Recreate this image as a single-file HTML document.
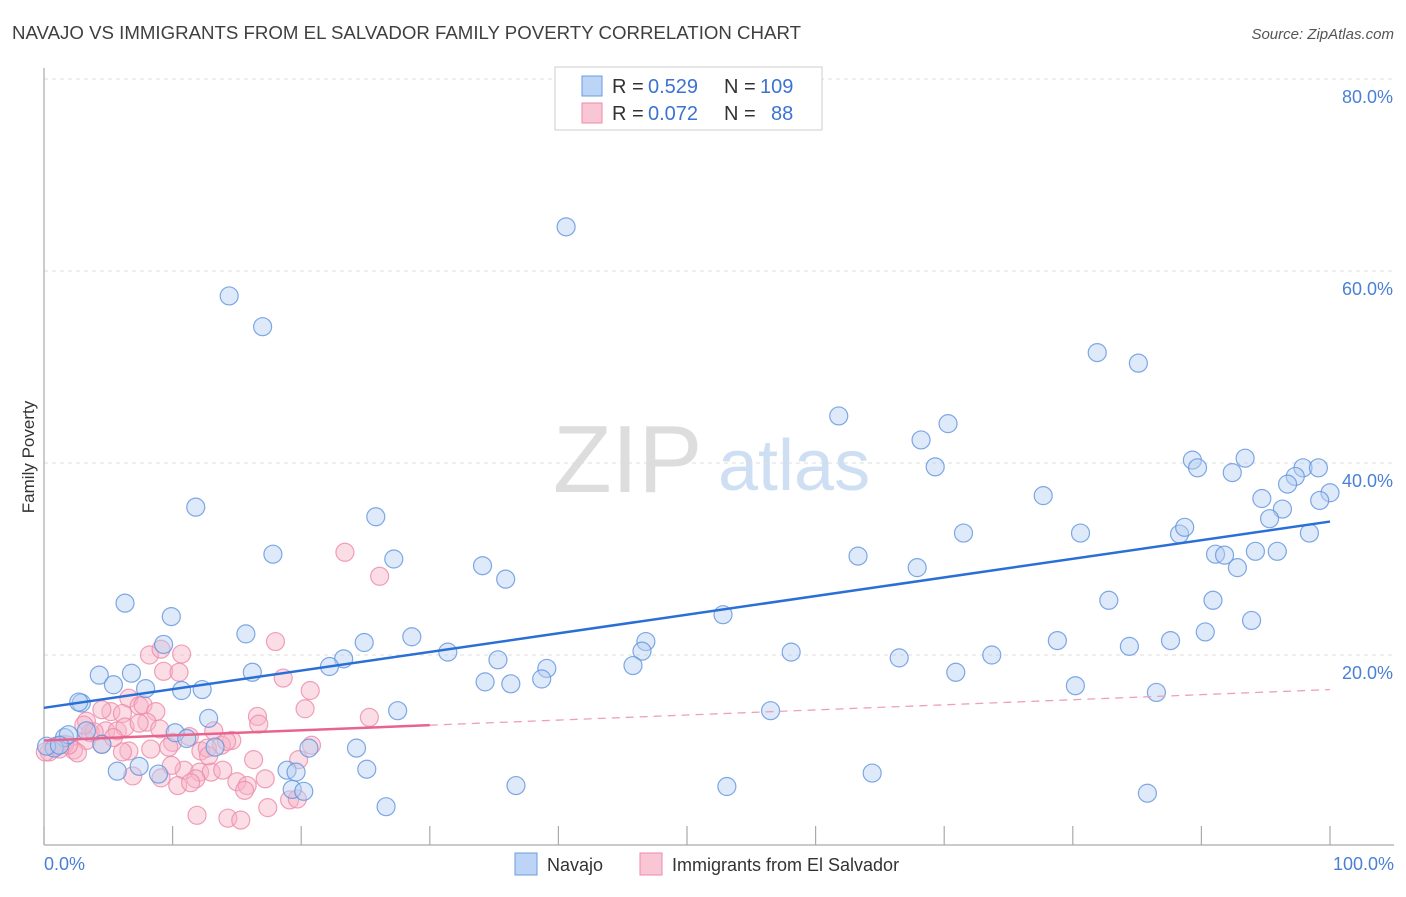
<!DOCTYPE html>
<html><head><meta charset="utf-8"><style>
body{margin:0;background:#fff;font-family:"Liberation Sans",sans-serif;}
svg text{font-family:"Liberation Sans",sans-serif;}
</style></head><body>
<svg id="chart" width="1406" height="892" xmlns="http://www.w3.org/2000/svg">
<text x="12" y="39" font-size="18" fill="#3f3f3f" textLength="789" lengthAdjust="spacingAndGlyphs">NAVAJO VS IMMIGRANTS FROM EL SALVADOR FAMILY POVERTY CORRELATION CHART</text>
<text x="1394" y="39" font-size="15" fill="#555" font-style="italic" text-anchor="end">Source: ZipAtlas.com</text>
<g>
<text x="553" y="492" font-size="96" fill="#ddd" font-family="Liberation Serif, serif">ZIP</text>
<text x="718" y="490" font-size="72" fill="#cfdff3">atlas</text>
</g>
<g id="grid"></g>
<line x1="44" y1="68" x2="44" y2="845" stroke="#aaa" stroke-width="1.2"/>
<line x1="44" y1="845" x2="1394" y2="845" stroke="#aaa" stroke-width="1.2"/>
<g id="xticks"></g>
<text transform="translate(34,457) rotate(-90)" font-size="17" fill="#333" text-anchor="middle">Family Poverty</text>
<text x="44" y="870" font-size="18" fill="#4a7fd6">0.0%</text>
<text x="1394" y="870" font-size="18" fill="#4a7fd6" text-anchor="end">100.0%</text>
<g id="pinkpts"></g>
<g id="bluepts"></g>
<g id="lines"></g>
<g>
<rect x="555" y="67" width="267" height="63" fill="#fff" stroke="#ccc"/>
<rect x="582" y="76" width="20" height="20" fill="#bcd4f5" stroke="#6a9be0"/>
<rect x="582" y="103" width="20" height="20" fill="#f9c6d6" stroke="#ee8aaa"/>
<text x="612" y="93" font-size="20" fill="#333">R =</text>
<text x="648" y="93" font-size="20" fill="#3c73d2">0.529</text>
<text x="724" y="93" font-size="20" fill="#333">N =</text>
<text x="760" y="93" font-size="20" fill="#3c73d2">109</text>
<text x="612" y="120" font-size="20" fill="#333">R =</text>
<text x="648" y="120" font-size="20" fill="#3c73d2">0.072</text>
<text x="724" y="120" font-size="20" fill="#333">N =</text>
<text x="771" y="120" font-size="20" fill="#3c73d2">88</text>
</g>
<g>
<rect x="515" y="853" width="22" height="22" fill="#bcd4f5" stroke="#6a9be0"/>
<text x="547" y="871" font-size="18" fill="#333">Navajo</text>
<rect x="640" y="853" width="22" height="22" fill="#f9c6d6" stroke="#ee8aaa"/>
<text x="672" y="871" font-size="18" fill="#333">Immigrants from El Salvador</text>
</g>
</svg>
<script>
const yTicks=[20,40,60,80];
const xTickVals=[0,10,20,30,40,50,60,70,80,90,100];
const navajoX=[40.6,14.4,17.0,81.9,85.1,61.8,70.3,68.2,69.3,89.3,93.4,89.7,92.4,97.9,99.1,97.3,96.7,100,99.2,77.7,94.7,96.3,95.3,11.8,25.8,71.5,80.6,88.3,88.7,98.4,94.2,95.9,91.1,91.8,92.8,63.3,17.8,27.2,34.1,35.9,67.9,6.3,82.8,90.9,9.9,52.8,93.9,15.7,28.6,24.9,9.3,46.8,46.5,31.4,78.8,87.6,84.4,90.3,58.1,73.7,23.3,22.2,35.3,39.1,45.8,66.5,70.9,16.2,4.3,6.8,5.4,7.9,10.7,12.3,34.3,36.3,38.7,80.2,86.5,2.9,27.5,12.8,56.5,10.2,11.1,13.3,4.5,1.6,0.8,0.2,20.6,24.3,7.4,5.7,8.9,18.9,19.6,25.1,64.4,19.3,20.2,36.7,53.1,26.6,85.8,2.7,1.9,3.3,1.2];
const navajoY=[64.6,57.4,54.2,51.5,50.4,44.9,44.1,42.4,39.6,40.3,40.5,39.5,39.0,39.5,39.5,38.6,37.8,36.9,36.1,36.6,36.3,35.2,34.2,35.4,34.4,32.7,32.7,32.6,33.3,32.7,30.8,30.8,30.5,30.4,29.1,30.3,30.5,30.0,29.3,27.9,29.1,25.4,25.7,25.7,24.0,24.2,23.6,22.2,21.9,21.3,21.1,21.4,20.4,20.3,21.5,21.5,20.9,22.4,20.3,20.0,19.6,18.8,19.5,18.6,18.9,19.7,18.2,18.2,17.9,18.1,16.9,16.5,16.3,16.4,17.2,17.0,17.5,16.8,16.1,15.0,14.2,13.4,14.2,11.9,11.3,10.4,10.7,11.4,10.3,10.5,10.3,10.3,8.4,7.9,7.6,8.0,7.8,8.1,7.7,6.0,5.8,6.4,6.3,4.2,5.6,15.1,11.7,12.1,10.6];
const salvX=[23.4,26.1,18.0,10.7,8.2,9.1,9.3,10.5,18.6,20.7,6.6,7.4,7.7,8.7,5.2,6.1,4.5,3.3,3.6,4.8,5.7,6.3,8.0,9.0,16.6,20.3,25.3,16.7,13.2,14.6,11.3,10.0,12.2,13.8,12.7,9.7,8.3,6.6,6.1,3.3,2.3,1.6,0.9,0.4,0.1,2.6,20.8,19.8,16.3,10.9,12.1,13.0,13.9,11.8,10.4,11.4,15.0,15.8,17.2,15.6,17.4,19.1,19.7,6.9,9.1,11.9,14.3,15.3,4.5,3.9,1.9,1.2,5.4,3.1,7.4,14.2,9.9,12.8];
const salvY=[30.7,28.2,21.4,20.1,20.0,20.6,18.3,18.2,17.6,16.3,15.5,14.7,14.8,14.1,14.1,13.9,14.3,13.1,11.9,12.1,12.1,12.5,13.0,12.3,13.6,14.4,13.5,12.8,12.1,11.1,11.5,10.9,10.0,10.6,10.3,10.4,10.2,10.0,9.9,11.1,10.1,10.7,10.5,9.9,9.9,9.8,10.6,9.1,9.1,8.0,7.8,7.8,8.0,7.1,6.4,6.7,6.8,6.4,7.1,5.9,4.1,4.9,5.0,7.4,7.2,3.3,3.0,2.8,10.7,12.0,10.6,10.2,11.4,12.7,12.9,11.0,8.5,9.5];
const navajoTrend=[14.5,33.9];
const salvTrend=[11.1,16.4];
const salvSolidEnd=30;
const X=v=>44+v*12.86, Y=v=>847-v*9.6;
const NS="http://www.w3.org/2000/svg";
function mk(t,a,p){const e=document.createElementNS(NS,t);for(const k in a)e.setAttribute(k,a[k]);p.appendChild(e);return e;}
const grid=document.getElementById('grid');
yTicks.forEach(t=>{
 const l=mk('line',{x1:44,x2:1394,y1:Y(t),y2:Y(t),stroke:'#ddd','stroke-dasharray':'4,4'},grid);
 
 
 const tx=mk('text',{x:1393,y:Y(t)+24,'font-size':18,fill:'#4a7fd6','text-anchor':'end'},grid);
 tx.textContent=t.toFixed(1)+'%';
 
 
});
mk('line',{x1:44,x2:1394,y1:79,y2:79,stroke:'#ddd','stroke-dasharray':'4,4'},grid);
const xt=document.getElementById('xticks');
xTickVals.forEach(t=>{
 const l=mk('line',{x1:X(t),x2:X(t),y1:826,y2:845,stroke:'#aaa','stroke-width':1.2},xt);
 
 
});
function pts(xs,ys,g,fill,stroke,name){
 xs.forEach((x,i)=>{
  const c=mk('circle',{cx:X(x),cy:Y(ys[i]),r:9,fill:fill,'fill-opacity':0.45,stroke:stroke,'stroke-width':1.2,'stroke-opacity':0.8},g);
  
  
 });
}
pts(salvX,salvY,document.getElementById('pinkpts'),'#f6b3c8','#ee8aaa','salvador-point');
pts(navajoX,navajoY,document.getElementById('bluepts'),'#b5cff2','#5f93de','navajo-point');
const lg=document.getElementById('lines');
const bl=mk('line',{x1:X(0),y1:Y(navajoTrend[0]),x2:X(100),y2:Y(navajoTrend[1]),stroke:'#2a6fd6','stroke-width':2.5},lg);


const sy=salvTrend[0]+(salvTrend[1]-salvTrend[0])*salvSolidEnd/100;
const pl=mk('line',{x1:X(0),y1:Y(salvTrend[0]),x2:X(salvSolidEnd),y2:Y(sy),stroke:'#e8648e','stroke-width':2.5},lg);


const pd=mk('line',{x1:X(salvSolidEnd),y1:Y(sy),x2:X(100),y2:Y(salvTrend[1]),stroke:'#eea0b8','stroke-width':1.3,'stroke-dasharray':'8,6'},lg);


</script>
</body></html>
